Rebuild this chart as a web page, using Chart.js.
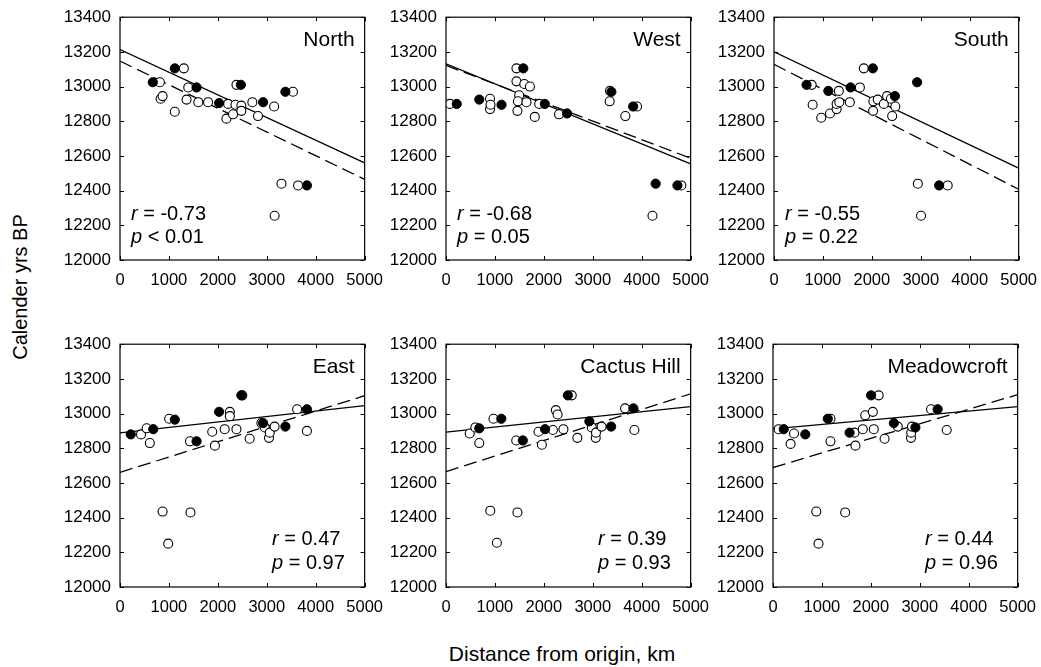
<!DOCTYPE html>
<html>
<head>
<meta charset="utf-8">
<script src="https://cdn.jsdelivr.net/npm/chart.js@4.4.0/dist/chart.umd.min.js"></script>
<style>
  html, body { margin: 0; padding: 0; background: #fff; }
  body { width: 1041px; height: 667px; position: relative; overflow: hidden;
         font-family: "Liberation Sans", Arial, sans-serif; color: #000; }
  canvas { position: absolute; }
  .ytitle { position: absolute; left: 20px; top: 287px; font-size: 20px; line-height: 20px;
            white-space: nowrap; transform: translate(-50%, -50%) rotate(-90deg); }
  .xtitle { position: absolute; left: 562px; top: 643px; font-size: 21px; line-height: 21px;
            white-space: nowrap; transform: translateX(-50%); }
</style>
</head>
<body>
<div class="ytitle">Calender yrs BP</div>
<div class="xtitle">Distance from origin, km</div>

<script>
// === DATA ===
const X_TICKS = [0, 1000, 2000, 3000, 4000, 5000];
const Y_TICKS = [12000, 12200, 12400, 12600, 12800, 13000, 13200, 13400];
const FIT_X = [0, 5000];   // regression lines run across the whole axis

const NORTH_OPEN = [[815,13025],[830,12930],[870,12945],[1120,12855],[1305,13105],[1395,12995],[1360,12925],
  [1600,12910],[1800,12910],[2175,12815],[2210,12900],[2310,12840],[2360,12895],[2380,13010],[2480,12890],
  [2480,12860],[2705,12910],[2820,12830],[3150,12885],[3300,12440],[3160,12255],[3535,12970],[3640,12430]];
const NORTH_FILLED = [[670,13025],[1120,13105],[1565,12995],[2025,12905],[2470,13010],[2925,12910],[3380,12970],[3820,12430]];
const NORTH_SOLID = [13213, 12560];
const NORTH_DASHED = [13147, 12465];

const WEST_OPEN = [[80,12900],[900,12930],[900,12870],[910,12895],[1440,13105],[1440,13030],[1460,12860],
  [1495,12950],[1470,12915],[1600,13015],[1715,13000],[1645,12910],[1815,12825],[1905,12900],[2310,12840],
  [3350,12975],[3345,12915],[3665,12830],[3905,12885],[4220,12255],[4810,12430]];
const WEST_FILLED = [[220,12900],[680,12925],[1135,12895],[1580,13105],[2020,12900],[2475,12845],[3380,12970],
  [3825,12885],[4285,12440],[4730,12430]];
const WEST_SOLID = [13131, 12554];
const WEST_DASHED = [13122, 12587];

const SOUTH_OPEN = [[770,13010],[790,12895],[965,12820],[1145,12845],[1280,12870],[1280,12900],[1325,12975],
  [1335,12910],[1550,12910],[1755,12995],[1835,13105],[2025,12860],[2030,12915],[2120,12925],[2245,12900],
  [2310,12945],[2390,12930],[2415,12830],[2480,12885],[2940,12440],[3005,12255],[3550,12430]];
const SOUTH_FILLED = [[665,13010],[1110,12975],[1565,12995],[2020,13105],[2470,12945],[2925,13025],[3375,12430]];
const SOUTH_SOLID = [13200, 12530];
const SOUTH_DASHED = [13128, 12408];

const EAST_OPEN = [[430,12880],[545,12915],[610,12830],[1005,12970],[870,12435],[985,12250],[1430,12840],
  [1440,12430],[1885,12895],[1940,12815],[2140,12910],[2245,13010],[2245,12985],[2380,12910],[2500,13105],
  [2650,12855],[2890,12945],[2960,12920],[3045,12860],[3060,12890],[3160,12925],[3620,13025],[3820,12900]];
const EAST_FILLED = [[220,12880],[680,12910],[1120,12965],[1565,12840],[2025,13010],[2480,13105],[2925,12945],
  [3380,12925],[3820,13025]];
const EAST_SOLID = [12889, 13046];
const EAST_DASHED = [12661, 13103];

const CACTUS_OPEN = [[485,12885],[600,12920],[680,12830],[970,12970],[905,12440],[1040,12255],[1435,12845],
  [1460,12430],[1890,12895],[1960,12820],[2185,12905],[2245,13020],[2280,12995],[2400,12910],[2570,13105],
  [2685,12860],[2980,12920],[3060,12860],[3065,12890],[3180,12925],[3660,13030],[3850,12905]];
const CACTUS_FILLED = [[680,12915],[1130,12970],[1570,12845],[2025,12910],[2490,13105],[2930,12955],[3375,12925],[3830,13030]];
const CACTUS_SOLID = [12893, 13040];
const CACTUS_DASHED = [12665, 13114];

const MEADOW_OPEN = [[115,12910],[430,12885],[360,12825],[1175,12970],[1175,12840],[885,12435],[930,12250],
  [1475,12430],[1685,12815],[1665,12890],[1835,12910],[1885,12990],[2040,13010],[2060,12910],[2160,13105],
  [2280,12855],[2550,12925],[2820,12860],[2825,12890],[2840,12925],[3230,13025],[3550,12905]];
const MEADOW_FILLED = [[220,12910],[660,12880],[1120,12970],[1565,12890],[2005,13105],[2470,12945],[2910,12920],[3365,13025]];
const MEADOW_SOLID = [12912, 13040];
const MEADOW_DASHED = [12689, 13109];

const PANELS = [
  { name: "North",       open: NORTH_OPEN,  filled: NORTH_FILLED,  solid: NORTH_SOLID,  dashed: NORTH_DASHED,  r: "-0.73", p: "< 0.01", left: 120, top: 17 },
  { name: "West",        open: WEST_OPEN,   filled: WEST_FILLED,   solid: WEST_SOLID,   dashed: WEST_DASHED,   r: "-0.68", p: "= 0.05", left: 446, top: 17 },
  { name: "South",       open: SOUTH_OPEN,  filled: SOUTH_FILLED,  solid: SOUTH_SOLID,  dashed: SOUTH_DASHED,  r: "-0.55", p: "= 0.22", left: 774, top: 17 },
  { name: "East",        open: EAST_OPEN,   filled: EAST_FILLED,   solid: EAST_SOLID,   dashed: EAST_DASHED,   r: "0.47",  p: "= 0.97", left: 120, top: 344 },
  { name: "Cactus Hill", open: CACTUS_OPEN, filled: CACTUS_FILLED, solid: CACTUS_SOLID, dashed: CACTUS_DASHED, r: "0.39",  p: "= 0.93", left: 446, top: 344 },
  { name: "Meadowcroft", open: MEADOW_OPEN, filled: MEADOW_FILLED, solid: MEADOW_SOLID, dashed: MEADOW_DASHED, r: "0.44",  p: "= 0.96", left: 773, top: 344 }
];
const BOX = 245;   // plot box size in px, both ways
// =================

const FONT = '"Liberation Sans", Arial, sans-serif';
const toPts = arr => arr.map(d => ({ x: d[0], y: d[1] }));
const fitPts = ys => FIT_X.map((x, i) => ({ x, y: ys[i] }));

// frame with inward ticks, panel name and r / p text
const framePlugin = {
  id: "frame",
  afterDatasetsDraw(chart, args, opts) {
    const { ctx, chartArea: a, scales } = chart;
    ctx.save();
    ctx.strokeStyle = "#000";
    ctx.lineWidth = 1.2;
    ctx.strokeRect(a.left, a.top, a.right - a.left, a.bottom - a.top);
    ctx.beginPath();
    X_TICKS.forEach(v => {
      const px = Math.round(scales.x.getPixelForValue(v)) + 0.5;
      ctx.moveTo(px, a.bottom); ctx.lineTo(px, a.bottom - 4);
      ctx.moveTo(px, a.top); ctx.lineTo(px, a.top + 4);
    });
    Y_TICKS.forEach(v => {
      const py = Math.round(scales.y.getPixelForValue(v)) + 0.5;
      ctx.moveTo(a.left, py); ctx.lineTo(a.left + 4, py);
      ctx.moveTo(a.right, py); ctx.lineTo(a.right - 4, py);
    });
    ctx.lineWidth = 1;
    ctx.stroke();

    ctx.fillStyle = "#000";
    ctx.textBaseline = "alphabetic";
    ctx.font = "21px " + FONT;
    ctx.textAlign = "right";
    ctx.fillText(opts.name, a.right - 10, a.top + 29);

    ctx.textAlign = "left";
    const lowRow = opts.row === 1;
    const sx = lowRow ? a.left + 152 : a.left + 11;
    const rY = a.bottom - (lowRow ? 42 : 40);
    const pY = a.bottom - (lowRow ? 18 : 17);
    const stat = (letter, rest, y) => {
      ctx.font = "italic 20px " + FONT;
      ctx.fillText(letter, sx, y);
      const w = ctx.measureText(letter).width;
      ctx.font = "20px " + FONT;
      ctx.fillText(rest, sx + w, y);
    };
    stat("r", " = " + opts.r, rY);
    stat("p", " " + opts.p, pY);
    ctx.restore();
  }
};

PANELS.forEach((pn, idx) => {
  const canvas = document.createElement("canvas");
  let w = 330, h = 287;
  canvas.width = w; canvas.height = h;
  canvas.style.width = w + "px"; canvas.style.height = h + "px";
  document.body.appendChild(canvas);

  const chart = new Chart(canvas, {
    type: "scatter",
    data: {
      datasets: [
        { data: toPts(pn.filled), backgroundColor: "#000", borderColor: "#000", borderWidth: 1, pointRadius: 4.6 },
        { data: toPts(pn.open), backgroundColor: "#fff", borderColor: "#000", borderWidth: 1.1, pointRadius: 4.5 },
        { data: fitPts(pn.solid), showLine: true, borderColor: "#000", borderWidth: 1.3, pointRadius: 0 },
        { data: fitPts(pn.dashed), showLine: true, borderColor: "#000", borderWidth: 1.3, pointRadius: 0, borderDash: [13, 6] }
      ]
    },
    options: {
      responsive: false,
      animation: false,
      events: [],
      layout: { padding: { top: 10, right: 24, left: 0, bottom: 0 } },
      plugins: {
        legend: { display: false },
        tooltip: { enabled: false },
        frame: { name: pn.name, r: pn.r, p: pn.p, row: idx < 3 ? 0 : 1 }
      },
      scales: {
        x: {
          type: "linear", min: 0, max: 5000,
          afterBuildTicks: s => { s.ticks = X_TICKS.map(v => ({ value: v })); },
          afterFit: s => { s.height = 32; },
          grid: { display: false, drawTicks: false },
          border: { display: false },
          ticks: { color: "#000", padding: 11, maxRotation: 0, autoSkip: false,
                   callback: v => String(v), font: { family: FONT, size: 16.5 } }
        },
        y: {
          type: "linear", min: 12000, max: 13400,
          afterBuildTicks: s => { s.ticks = Y_TICKS.map(v => ({ value: v })); },
          afterFit: s => { s.width = 64; },
          grid: { display: false, drawTicks: false },
          border: { display: false },
          ticks: { color: "#000", padding: 9, autoSkip: false,
                   callback: v => String(v), font: { family: FONT, size: 17 } }
        }
      }
    },
    plugins: [framePlugin]
  });

  // grow the canvas until the plot box has the figure's size, then place it
  for (let k = 0; k < 3; k++) {
    const a = chart.chartArea;
    const dw = BOX - Math.round(a.right - a.left);
    const dh = BOX - Math.round(a.bottom - a.top);
    if (!dw && !dh) break;
    w += dw; h += dh;
    chart.resize(w, h);
  }
  const a = chart.chartArea;
  canvas.style.left = (pn.left - a.left) + "px";
  canvas.style.top = (pn.top - a.top) + "px";
});
</script>
</body>
</html>
